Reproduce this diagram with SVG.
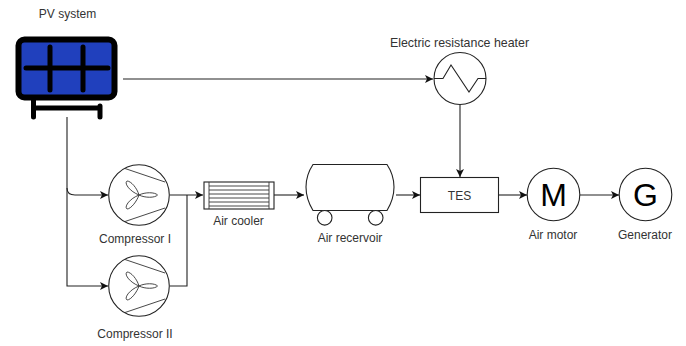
<svg xmlns="http://www.w3.org/2000/svg" width="686" height="346" viewBox="0 0 686 346">
<style>
text{font-family:"Liberation Sans",Arial,sans-serif;font-size:12px;fill:#333;text-anchor:middle}
.w{fill:#fff;stroke:#222;stroke-width:1.1}
.c{fill:none;stroke:#222;stroke-width:1.1}
.k{fill:none;stroke:#000;stroke-width:5;stroke-linecap:round}
.t{fill:none;stroke:#333;stroke-width:.9}
</style>
<defs>
<marker id="a" markerWidth="9" markerHeight="9" refX="8" refY="4.5" orient="auto" markerUnits="userSpaceOnUse"><path d="M0,0.5L8,4.5L0,8.5L2,4.5Z" fill="#111"/></marker>
<g id="fan"><circle r="30.3" class="w"/><path class="t" d="M-14,-26.500L26,-13M-14,26.500L26,13"/><path class="t" d="M0,0C-2,-7-8,-14-12,-14C-15,-12-10,-4 0,0ZM0,0C6,-3 16,-3 18.500,0C16,3 6,3 0,0ZM0,0C-2,6-8,14-12,14C-15,12-10,4 0,0Z"/></g>
</defs>
<g id="connectors">
<path class="c" marker-end="url(#a)" d="M123,79H433"/>
<path class="c" marker-end="url(#a)" d="M460,105V177"/>
<path class="c" marker-end="url(#a)" d="M67,117V188Q67,195 75,195H108"/>
<path class="c" marker-end="url(#a)" d="M67,188V286H108"/>
<path class="c" marker-end="url(#a)" d="M170,195H203"/>
<path class="c" d="M170,286H187V195"/>
<path class="c" marker-end="url(#a)" d="M274,195H304"/>
<path class="c" marker-end="url(#a)" d="M396,195H420"/>
<path class="c" marker-end="url(#a)" d="M499,195H527"/>
<path class="c" marker-end="url(#a)" d="M580,195H619"/>
</g>
<g id="pv">
<rect x="18.500" y="39.500" width="96" height="58" rx="6" fill="#2040bd" stroke="#000" stroke-width="6"/>
<path class="k" d="M26,68H108M50,47V90M83,47V90"/>
<path class="k" d="M33.500,100V117M100,106V117M33.500,108H100"/>
<text x="67.500" y="18">PV system</text>
</g>
<g id="heater">
<circle cx="460" cy="78.500" r="26" class="w"/>
<path class="c" d="M434,78.500H443L451,65L469,92L478,78.500H486"/>
<text x="459.500" y="47" style="font-size:12.4px">Electric resistance heater</text>
</g>
<g id="compressor1"><use href="#fan" x="139" y="195"/><text x="135" y="243">Compressor I</text></g>
<g id="compressor2"><use href="#fan" x="139" y="286"/><text x="135" y="338">Compressor II</text></g>
<g id="cooler">
<rect x="204" y="182" width="70" height="27" class="w"/>
<path class="t" d="M209,182V209M269,182V209M209,186H269M209,190H269M209,194H269M209,198H269M209,202H269M209,206H269"/>
<text x="238.500" y="225">Air cooler</text>
</g>
<g id="receiver">
<path class="w" d="M313,164.500H387Q394,175 394,187Q394,199 387,210.500H313Q306,199 306,187Q306,175 313,164.500Z"/>
<circle cx="324.700" cy="217.800" r="7.300" class="w"/>
<circle cx="375.700" cy="217.800" r="7.300" class="w"/>
<text x="350" y="242">Air recervoir</text>
</g>
<g id="tes">
<rect x="420.500" y="177.500" width="78" height="35" class="w"/>
<text x="459.500" y="200">TES</text>
</g>
<g id="motor">
<circle cx="553.500" cy="194.500" r="26.300" class="w"/>
<text x="553.500" y="205.500" style="font-size:32px;fill:#000">M</text>
<text x="553" y="239">Air motor</text>
</g>
<g id="generator">
<circle cx="645.500" cy="194.500" r="26.300" class="w"/>
<text x="645.500" y="205.500" style="font-size:32px;fill:#000">G</text>
<text x="645" y="239">Generator</text>
</g>
</svg>
